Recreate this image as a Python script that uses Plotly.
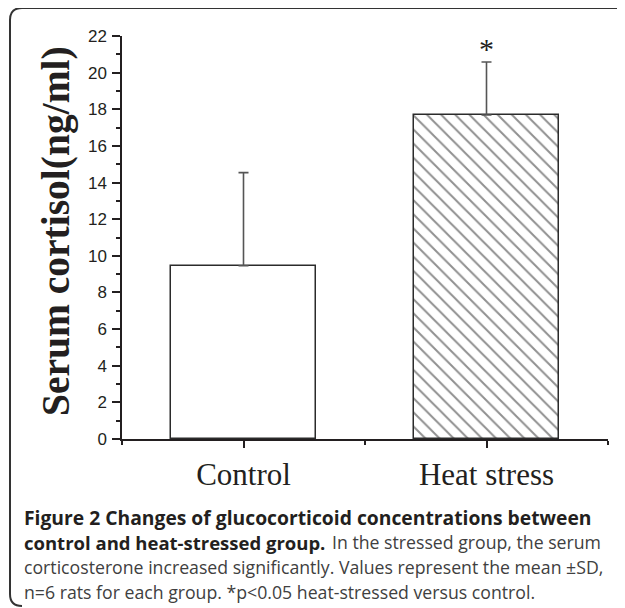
import plotly.graph_objects as go

# ---- data ----
categories = ["Control", "Heat stress"]
means = [9.46, 17.69]
sd_upper = [5.08, 2.89]
significance = ["", "*"]
y_tick_values = [0, 2, 4, 6, 8, 10, 12, 14, 16, 18, 20, 22]
y_title = "Serum cortisol(ng/ml)"
caption_bold_1 = "Figure 2 Changes of glucocorticoid concentrations between"
caption_bold_2 = "control and heat-stressed group."
caption_reg_2 = "In the stressed group, the serum"
caption_reg_3 = "corticosterone increased significantly. Values represent the mean \u00b1SD,"
caption_reg_4 = "n=6 rats for each group. *p&lt;0.05 heat-stressed versus control."

# ---- geometry (page pixels; page body has an 8px margin) ----
OFF = 8
W, H = 625 - OFF, 608 - OFF
L, R, T = 122 - OFF, 17, 36 - OFF
B = H - (439 - OFF)
pw, ph = W - L - R, H - T - B

def px(x):
    return (x - OFF - L) / pw

def py(y):
    return (H - B - (y - OFF)) / ph

xpos = list(range(1, len(categories) + 1))

fig = go.Figure()
fig.add_trace(go.Bar(
    x=xpos, y=means, width=0.6,
    marker=dict(
        color="white",
        line=dict(color="#2b2b2b", width=1.5),
        pattern=dict(shape=["", "\\"], size=10, solidity=0.2,
                     fgcolor="#222222", bgcolor="white", fillmode="overlay"),
    ),
    error_y=dict(type="data", symmetric=False, array=sd_upper,
                 arrayminus=[0] * len(means), color="#555555",
                 thickness=1.6, width=5),
    showlegend=False,
))

annotations = []
for xi, m, s, sig in zip(xpos, means, sd_upper, significance):
    if sig:
        annotations.append(dict(x=xi, y=m + s, xref="x", yref="y", text=sig,
                                showarrow=False, yanchor="bottom", yshift=-5,
                                font=dict(family="Liberation Serif", size=30, color="#231f20")))

annotations.append(dict(x=px(56), y=py(231), xref="paper", yref="paper",
                        text=f"<b>{y_title}</b>", textangle=-90, showarrow=False,
                        xanchor="center", yanchor="middle",
                        font=dict(family="Liberation Serif", size=39.5, color="#231f20")))

bold_font_1 = dict(family="Open Sans", size=19.3, color="#231f20")
bold_font_2 = dict(family="Open Sans", size=18.5, color="#231f20")
reg_font = dict(family="Open Sans", size=17.7, color="#404040")
caption_items = [
    (f"<b>{caption_bold_1}</b>", 22, 517, bold_font_1),
    (f"<b>{caption_bold_2}</b>", 22, 542, bold_font_2),
    (caption_reg_2, 330, 542, reg_font),
    (caption_reg_3, 22, 567, reg_font),
    (caption_reg_4, 22, 592, reg_font),
]
for txt, xx, yy, fnt in caption_items:
    annotations.append(dict(x=px(xx), y=py(yy), xref="paper", yref="paper",
                            text=txt, showarrow=False, xanchor="left", yanchor="middle",
                            align="left", font=fnt))

# rounded border (left, top; open right/bottom)
bl, bt, bb, br, rad = 10, 8, 606, 640, 12
path = (f"M {px(br)},{py(bt)} L {px(bl + rad)},{py(bt)} "
        f"Q {px(bl)},{py(bt)} {px(bl)},{py(bt + rad)} "
        f"L {px(bl)},{py(bb - rad)} Q {px(bl)},{py(bb)} {px(bl + rad)},{py(bb)}")
fig.add_shape(type="path", path=path, xref="paper", yref="paper",
              line=dict(color="#333333", width=2))

fig.update_layout(
    width=W, height=H,
    margin=dict(l=L, r=R, t=T, b=B, pad=0),
    paper_bgcolor="white", plot_bgcolor="white",
    annotations=annotations,
    xaxis=dict(range=[0.5, len(categories) + 0.5], tickmode="array",
               tickvals=xpos, ticktext=categories,
               ticks="outside", ticklen=7, tickwidth=1.5, tickcolor="#231f20",
               minor=dict(tickmode="array",
                          tickvals=[0.5 + i for i in range(len(categories) + 1)],
                          ticks="outside", ticklen=4, tickwidth=1.5, tickcolor="#231f20"),
               showline=True, linecolor="#231f20", linewidth=1.5,
               showgrid=False, zeroline=False,
               tickfont=dict(family="Liberation Serif", size=31, color="#231f20")),
    yaxis=dict(range=[0, 22], tickmode="array", tickvals=y_tick_values,
               ticks="outside", ticklen=8, tickwidth=1.5, tickcolor="#231f20",
               ticklabelstandoff=2,
               minor=dict(dtick=1, ticks="outside", ticklen=4, tickwidth=1.5,
                          tickcolor="#231f20"),
               showline=True, linecolor="#231f20", linewidth=1.5,
               showgrid=False, zeroline=False,
               tickfont=dict(family="Liberation Sans", size=17, color="#231f20")),
    bargap=0,
)

fig.write_html("out.html")
